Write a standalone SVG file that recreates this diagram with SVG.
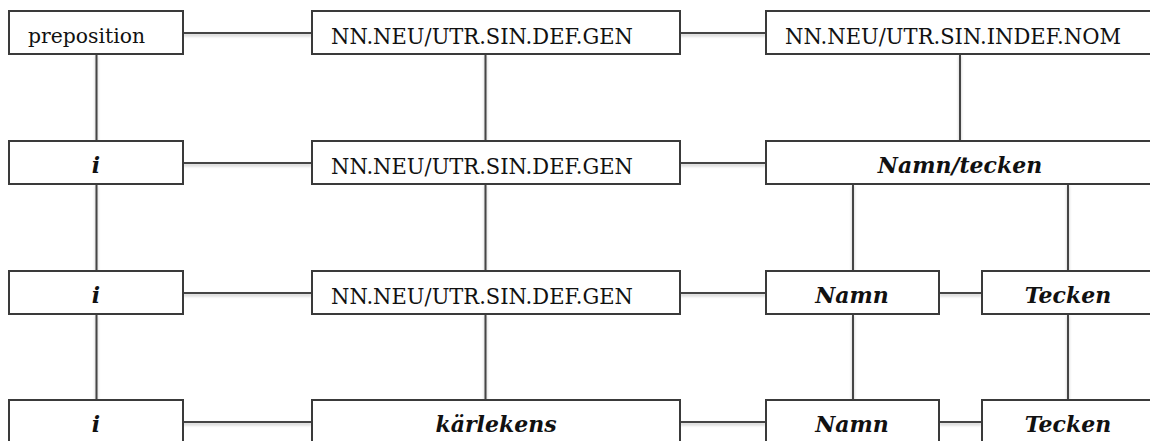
<svg xmlns="http://www.w3.org/2000/svg" width="1150" height="441" viewBox="0 0 1150 441">
<style>
.box{fill:#fff;stroke:#3a3a3a;stroke-width:2}
.c{stroke:#444;stroke-width:2;fill:none}
.t{font-family:"DejaVu Serif","Liberation Serif",serif;font-size:22px;fill:#111}
.p{font-family:"DejaVu Serif","Liberation Serif",serif;font-size:20px;fill:#111}
.b{font-family:"DejaVu Serif","Liberation Serif",serif;font-size:22px;font-weight:bold;font-style:italic;fill:#111;text-anchor:middle}
</style>
<defs>
<filter id="sh" x="-5%" y="-50%" width="110%" height="200%">
<feGaussianBlur in="SourceAlpha" stdDeviation="1.5"/>
<feOffset dx="0" dy="1.5" result="b"/>
<feComponentTransfer><feFuncA type="linear" slope="0.25"/></feComponentTransfer>
<feMerge><feMergeNode/><feMergeNode in="SourceGraphic"/></feMerge>
</filter>
</defs>
<rect width="1150" height="441" fill="#fff"/>
<g id="connectors" class="c" filter="url(#sh)">
<path d="M183 33H312M680 33H766"/>
<path d="M183 163H312M680 163H766"/>
<path d="M183 293H312M680 293H766M939 293H982"/>
<path d="M183 422H312M680 422H766M939 422H982"/>
<path d="M96.5 54V141M96.5 184V271M96.5 314V400"/>
<path d="M485.5 54V141M485.5 184V271M485.5 314V400"/>
<path d="M960 54V141"/>
<path d="M853 184V271M853 314V400"/>
<path d="M1068 184V271M1068 314V400"/>
</g>
<g id="n-prep"><rect class="box" x="9" y="11" width="174" height="43"/><text class="p" x="28" y="43" textLength="117" lengthAdjust="spacingAndGlyphs">preposition</text></g>
<g id="n-gen1"><rect class="box" x="312" y="11" width="368" height="43"/><text class="t" x="331" y="44" textLength="302" lengthAdjust="spacingAndGlyphs">NN.NEU/UTR.SIN.DEF.GEN</text></g>
<g id="n-nom"><rect class="box" x="766" y="11" width="390" height="43"/><text class="t" x="785" y="44" textLength="336" lengthAdjust="spacingAndGlyphs">NN.NEU/UTR.SIN.INDEF.NOM</text></g>
<g id="n-i1"><rect class="box" x="9" y="141" width="174" height="43"/><text class="b" x="96" y="173">i</text></g>
<g id="n-gen2"><rect class="box" x="312" y="141" width="368" height="43"/><text class="t" x="331" y="174" textLength="302" lengthAdjust="spacingAndGlyphs">NN.NEU/UTR.SIN.DEF.GEN</text></g>
<g id="n-namntecken"><rect class="box" x="766" y="141" width="390" height="43"/><text class="b" x="960" y="173">Namn/tecken</text></g>
<g id="n-i2"><rect class="box" x="9" y="271" width="174" height="43"/><text class="b" x="96" y="303">i</text></g>
<g id="n-gen3"><rect class="box" x="312" y="271" width="368" height="43"/><text class="t" x="331" y="304" textLength="302" lengthAdjust="spacingAndGlyphs">NN.NEU/UTR.SIN.DEF.GEN</text></g>
<g id="n-namn1"><rect class="box" x="766" y="271" width="173" height="43"/><text class="b" x="852" y="303">Namn</text></g>
<g id="n-tecken1"><rect class="box" x="982" y="271" width="174" height="43"/><text class="b" x="1068" y="303">Tecken</text></g>
<g id="n-i3"><rect class="box" x="9" y="400" width="174" height="43"/><text class="b" x="96" y="432">i</text></g>
<g id="n-karlekens"><rect class="box" x="312" y="400" width="368" height="43"/><text class="b" x="496" y="432">kärlekens</text></g>
<g id="n-namn2"><rect class="box" x="766" y="400" width="173" height="43"/><text class="b" x="852" y="432">Namn</text></g>
<g id="n-tecken2"><rect class="box" x="982" y="400" width="174" height="43"/><text class="b" x="1068" y="432">Tecken</text></g>
</svg>
